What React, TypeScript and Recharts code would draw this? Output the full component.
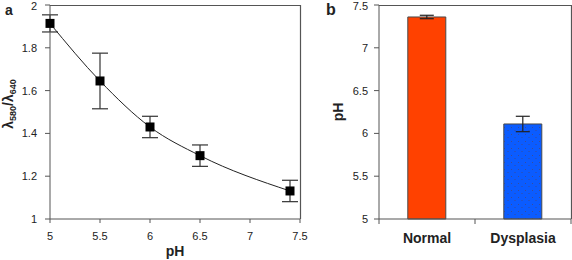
import React from "react";
import {
  ComposedChart,
  BarChart,
  Bar,
  Line,
  XAxis,
  YAxis,
  ErrorBar,
  Cell,
} from "recharts";

// panel a: calibration curve
const phSteps = [5, 5.5, 6, 6.5, 7.4];
const ratioValues = [1.914, 1.645, 1.43, 1.296, 1.131];
const ratioErrors = [0.04, 0.13, 0.05, 0.05, 0.05];
const phTicks = [5, 5.5, 6, 6.5, 7, 7.5];
const ratioTicks = [1, 1.2, 1.4, 1.6, 1.8, 2];

// panel b: tissue pH
const groups = ["Normal", "Dysplasia"];
const meanPh = [7.36, 6.11];
const sdPh = [0.02, 0.09];
const tissueTicks = [5, 5.5, 6, 6.5, 7, 7.5];

const FONT = "'Liberation Sans', Arial, sans-serif";
const AXIS = "#555555";
const TEXT = "#222";

// layout
const CHART_H = 260;
const TOP = 5;
const XAXIS_H = 41;
const A_LEFT = 0;
const A_YAXIS_W = 50;
const A_PLOT_W = 250;
const A_EXTRA = 20; // room so the last tick label is not clipped
const B_LEFT = 300;
const B_YAXIS_W = 79;
const B_PLOT_W = 192;

const curveData = phSteps.map((ph, i) => ({
  ph,
  ratio: ratioValues[i],
  err: ratioErrors[i],
}));

const barData = groups.map((g, i) => ({ group: g, ph: meanPh[i], sd: sdPh[i] }));
const BAR_FILLS = ["#ff4100", "url(#dysDots)"];

const tickStyle = { fontSize: 11, fill: TEXT, fontFamily: FONT };

// square marker
const SquareDot = (props: any) => {
  const { cx, cy } = props;
  if (cx == null || cy == null) return null;
  return <rect x={cx - 4.5} y={cy - 4.5} width={9} height={9} fill="#000" />;
};

// λ580/λ640 rotated label
const RatioLabel = (props: any) => {
  const vb = props.viewBox || { x: 0, y: TOP, width: A_YAXIS_W, height: 214 };
  const x = vb.x + 13;
  const y = vb.y + vb.height / 2 - 8;
  return (
    <text
      x={x}
      y={y}
      transform={`rotate(-90 ${x} ${y})`}
      textAnchor="middle"
      fontFamily={FONT}
      fontWeight="bold"
      fontSize={14}
      fill={TEXT}
    >
      λ<tspan fontSize={9} dy={3}>580</tspan>
      <tspan dy={-3}>/λ</tspan>
      <tspan fontSize={9} dy={3}>640</tspan>
    </text>
  );
};

const PhLabel = (props: any) => {
  const vb = props.viewBox || { x: 0, y: TOP, width: B_YAXIS_W, height: 214 };
  const x = vb.x + 43;
  const y = vb.y + vb.height / 2;
  return (
    <text
      x={x}
      y={y}
      transform={`rotate(-90 ${x} ${y})`}
      textAnchor="middle"
      fontFamily={FONT}
      fontWeight="bold"
      fontSize={14}
      fill={TEXT}
    >
      pH
    </text>
  );
};

// group tick: bold name at band centre, short marks at band edges
const GroupTick = (props: any) => {
  const { x, y, payload, index, visibleTicksCount } = props;
  let half = payload && typeof payload.offset === "number" ? payload.offset : 0;
  if (!half) half = B_PLOT_W / (visibleTicksCount || groups.length) / 2;
  return (
    <g>
      {index === 0 && (
        <line x1={x - half} x2={x - half} y1={y} y2={y + 5} stroke={AXIS} strokeWidth={1} />
      )}
      <line x1={x + half} x2={x + half} y1={y} y2={y + 5} stroke={AXIS} strokeWidth={1} />
      <text
        x={x}
        y={y + 14}
        dy="0.71em"
        textAnchor="middle"
        fontFamily={FONT}
        fontWeight="bold"
        fontSize={14}
        fill={TEXT}
      >
        {payload.value}
      </text>
    </g>
  );
};

// plot frame (top and right edges), drawn as an svg overlay
const Frame = ({ left, width }: { left: number; width: number }) => {
  const h = CHART_H - TOP - XAXIS_H;
  return (
    <svg
      width={width + 2}
      height={h + 2}
      style={{ position: "absolute", left, top: TOP - 1, pointerEvents: "none" }}
    >
      <polyline
        points={`0,1.5 ${width + 0.5},1.5 ${width + 0.5},${h + 1}`}
        fill="none"
        stroke={AXIS}
        strokeWidth={1.2}
      />
    </svg>
  );
};

const panelLetter: React.CSSProperties = {
  position: "absolute",
  fontFamily: FONT,
  fontWeight: "bold",
  color: TEXT,
  lineHeight: 1,
};

export default function App() {
  return (
    <div
      style={{
        position: "absolute",
        left: 0,
        top: 0,
        width: 572,
        height: CHART_H,
        background: "#fff",
        overflow: "hidden",
      }}
    >
      {/* Panel a */}
      <div style={{ position: "absolute", left: A_LEFT, top: 0 }}>
        <ComposedChart
          width={A_YAXIS_W + A_PLOT_W + A_EXTRA}
          height={CHART_H}
          data={curveData}
          margin={{ top: TOP, right: A_EXTRA, bottom: 0, left: 0 }}
        >
          <XAxis
            dataKey="ph"
            type="number"
            domain={[5, 7.5]}
            ticks={phTicks}
            tick={tickStyle}
            stroke={AXIS}
            tickSize={4}
            tickMargin={9}
            height={XAXIS_H}
            label={{
              value: "pH",
              position: "insideBottom",
              offset: 4,
              style: { fontSize: 14, fontWeight: "bold", fill: TEXT, fontFamily: FONT },
            }}
          />
          <YAxis
            type="number"
            domain={[1, 2]}
            ticks={ratioTicks}
            tick={tickStyle}
            stroke={AXIS}
            tickSize={5}
            tickMargin={8}
            width={A_YAXIS_W}
            label={<RatioLabel />}
          />
          <Line
            type="monotone"
            dataKey="ratio"
            stroke="#222"
            strokeWidth={1}
            dot={<SquareDot />}
            activeDot={false}
            isAnimationActive={false}
          >
            <ErrorBar dataKey="err" width={8} stroke="#333" strokeWidth={1.2} />
          </Line>
        </ComposedChart>
      </div>
      <Frame left={A_LEFT + A_YAXIS_W} width={A_PLOT_W} />
      <span style={{ ...panelLetter, left: 5, top: 3, fontSize: 14 }}>a</span>

      {/* Panel b */}
      <div style={{ position: "absolute", left: B_LEFT, top: 0 }}>
        <BarChart
          width={B_YAXIS_W + B_PLOT_W + 1}
          height={CHART_H}
          data={barData}
          margin={{ top: TOP, right: 1, bottom: 0, left: 0 }}
          barCategoryGap="30%"
        >
          <defs>
            <pattern id="dysDots" width="7" height="7" patternUnits="userSpaceOnUse">
              <rect width="7" height="7" fill="#0b5cff" />
              <circle cx="1.5" cy="1.5" r="0.55" fill="#3d4a8c" />
              <circle cx="5" cy="4.5" r="0.55" fill="#3d4a8c" />
            </pattern>
          </defs>
          <XAxis
            dataKey="group"
            tick={<GroupTick />}
            tickLine={false}
            tickSize={0}
            tickMargin={0}
            axisLine={{ stroke: AXIS, strokeWidth: 1.2 }}
            stroke={AXIS}
            height={XAXIS_H}
          />
          <YAxis
            type="number"
            domain={[5, 7.5]}
            ticks={tissueTicks}
            tick={tickStyle}
            stroke={AXIS}
            tickSize={5}
            tickMargin={6}
            width={B_YAXIS_W}
            label={<PhLabel />}
          />
          <Bar dataKey="ph" stroke="#4a4a4a" strokeWidth={1} isAnimationActive={false}>
            {barData.map((d, i) => (
              <Cell key={d.group} fill={BAR_FILLS[i]} />
            ))}
            <ErrorBar dataKey="sd" width={7} stroke="#222" strokeWidth={1.2} />
          </Bar>
        </BarChart>
      </div>
      <Frame left={B_LEFT + B_YAXIS_W} width={B_PLOT_W} />
      <span style={{ ...panelLetter, left: 326, top: 2, fontSize: 16 }}>b</span>
    </div>
  );
}
